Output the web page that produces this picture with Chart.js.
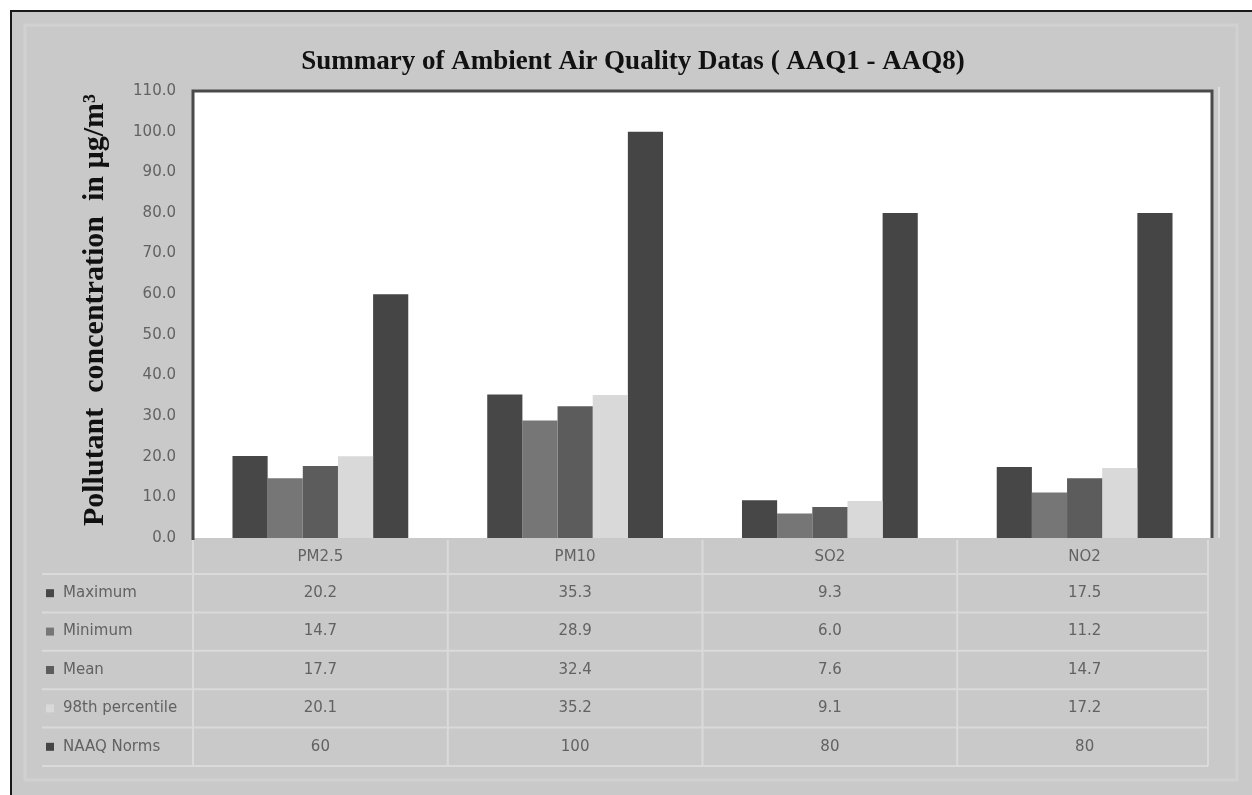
<!DOCTYPE html>
<html>
<head>
<meta charset="utf-8">
<script src="https://cdn.jsdelivr.net/npm/chart.js@4/dist/chart.umd.min.js"></script>
<style>
  html, body { margin: 0; padding: 0; background: #ffffff; }
  #wrap { width: 1252px; height: 795px; }
  canvas { display: block; filter: blur(0.5px); }
</style>
</head>
<body>
<div id="wrap"><canvas id="c" width="1252" height="795"></canvas></div>
<script>
// Ambient air quality summary, stations AAQ1 - AAQ8 (µg/m³)
const pollutants   = ['PM2.5', 'PM10', 'SO2', 'NO2'];
const maximum      = [20.2, 35.3, 9.3, 17.5];
const minimum      = [14.7, 28.9, 6.0, 11.2];
const mean         = [17.7, 32.4, 7.6, 14.7];
const percentile98 = [20.1, 35.2, 9.1, 17.2];
const naaqNorms    = [60, 100, 80, 80];
const seriesNames  = ['Maximum', 'Minimum', 'Mean', '98th percentile', 'NAAQ Norms'];
const seriesColors = ['#474747', '#767676', '#5c5c5c', '#d9d9d9', '#454545'];
const yTicks       = { min: 0, max: 110, step: 10 };

const chartTitle = 'Summary of Ambient Air Quality Datas ( AAQ1 - AAQ8)';
const yTitle     = 'Pollutant  concentration  in µg/m³';

const seriesValues = [maximum, minimum, mean, percentile98, naaqNorms];
const tableRows = seriesValues.map((vals, i) =>
  vals.map(v => (i === 4 ? String(v) : v.toFixed(1))));

const PANEL_BG = '#c9c9c9';
const TEXT_GRAY = '#626262';

// Gray panel, outer frame and white plot background
const backdrop = {
  id: 'backdrop',
  beforeDraw(chart) {
    const { ctx, width, height, chartArea: a } = chart;
    ctx.save();
    ctx.fillStyle = '#ffffff';
    ctx.fillRect(0, 0, width, height);
    ctx.fillStyle = PANEL_BG;
    ctx.fillRect(10, 10, width - 10, height - 10);
    ctx.strokeStyle = '#1a1a1a';
    ctx.lineWidth = 2;
    ctx.beginPath();
    ctx.moveTo(11, height); ctx.lineTo(11, 11); ctx.lineTo(width, 11);
    ctx.stroke();
    // soft inner panel edge
    ctx.strokeStyle = '#d1d1d1';
    ctx.lineWidth = 3;
    ctx.strokeRect(25, 25, width - 40, height - 40);
    ctx.fillStyle = '#ffffff';
    ctx.fillRect(a.left, a.top, a.right - a.left, a.bottom - a.top);
    ctx.restore();
  }
};

// Plot frame, titles and the data table under the bars
const frameAndTable = {
  id: 'frameAndTable',
  afterDraw(chart) {
    const { ctx, chartArea: a, scales } = chart;
    const x = scales.x;
    ctx.save();

    // plot frame (left, top, right)
    ctx.strokeStyle = '#4a4a4a';
    ctx.lineWidth = 3;
    ctx.beginPath();
    ctx.moveTo(a.left, a.bottom + 2);
    ctx.lineTo(a.left, a.top);
    ctx.lineTo(a.right, a.top);
    ctx.lineTo(a.right, a.bottom);
    ctx.stroke();
    ctx.strokeStyle = '#dedede';
    ctx.lineWidth = 2;
    ctx.beginPath();
    ctx.moveTo(a.right + 7, a.top - 4);
    ctx.lineTo(a.right + 7, a.bottom);
    ctx.stroke();

    // chart title
    ctx.fillStyle = '#111111';
    ctx.font = 'bold 27px "Liberation Serif", "DejaVu Serif", serif';
    ctx.textAlign = 'center';
    ctx.textBaseline = 'middle';
    ctx.fillText(chartTitle, 633, 62);

    // y axis title
    ctx.save();
    ctx.translate(95, 310);
    ctx.rotate(-Math.PI / 2);
    ctx.font = 'bold 30px "Liberation Serif", "DejaVu Serif", serif';
    ctx.fillText(yTitle, 0, 0);
    ctx.restore();

    // data table
    const tableLeft = 42;
    const tableRight = a.right - 4;
    const headerMid = a.bottom + 19;
    const rowTop0 = a.bottom + 36;
    const rowH = 38.4;
    const n = pollutants.length;
    const step = (a.right - a.left) / n;

    ctx.strokeStyle = '#dadada';
    ctx.lineWidth = 2;
    // horizontal row lines
    for (let r = 0; r <= seriesNames.length; r++) {
      const y = rowTop0 + r * rowH;
      ctx.beginPath();
      ctx.moveTo(tableLeft, y);
      ctx.lineTo(tableRight, y);
      ctx.stroke();
    }
    // vertical column lines
    for (let c = 0; c <= n; c++) {
      const xx = a.left + c * step - (c === n ? 4 : 0);
      ctx.beginPath();
      ctx.moveTo(xx, a.bottom + 2);
      ctx.lineTo(xx, rowTop0 + seriesNames.length * rowH);
      ctx.stroke();
    }

    ctx.font = '15px "DejaVu Sans", sans-serif';
    ctx.fillStyle = TEXT_GRAY;
    ctx.textAlign = 'center';
    pollutants.forEach((p, i) => {
      ctx.fillText(p, x.getPixelForValue(i), headerMid);
    });

    seriesNames.forEach((name, r) => {
      const yMid = rowTop0 + r * rowH + rowH / 2;
      ctx.fillStyle = seriesColors[r];
      ctx.fillRect(46, yMid - 4, 8, 8);
      ctx.fillStyle = TEXT_GRAY;
      ctx.textAlign = 'left';
      ctx.fillText(name, 63, yMid);
      ctx.textAlign = 'center';
      tableRows[r].forEach((t, i) => {
        ctx.fillText(t, x.getPixelForValue(i), yMid);
      });
    });

    ctx.restore();
  }
};

new Chart(document.getElementById('c'), {
  type: 'bar',
  data: {
    labels: pollutants,
    datasets: seriesNames.map((name, i) => ({
      label: name,
      data: seriesValues[i],
      backgroundColor: seriesColors[i],
      borderWidth: 0,
      categoryPercentage: 0.69,
      barPercentage: 1.0
    }))
  },
  options: {
    responsive: false,
    animation: false,
    devicePixelRatio: 1,
    layout: { padding: { left: 0, top: 91, right: 40, bottom: 257 } },
    plugins: {
      legend: { display: false },
      tooltip: { enabled: false },
      title: { display: false }
    },
    scales: {
      x: { display: false },
      y: {
        min: yTicks.min,
        max: yTicks.max,
        afterFit(scale) { scale.width = 193; },
        grid: { display: false, drawTicks: false },
        border: { display: false },
        ticks: {
          stepSize: yTicks.step,
          padding: 17,
          color: TEXT_GRAY,
          font: { family: '"DejaVu Sans", sans-serif', size: 15 },
          callback: v => Number(v).toFixed(1)
        }
      }
    }
  },
  plugins: [backdrop, frameAndTable]
});
</script>
</body>
</html>
